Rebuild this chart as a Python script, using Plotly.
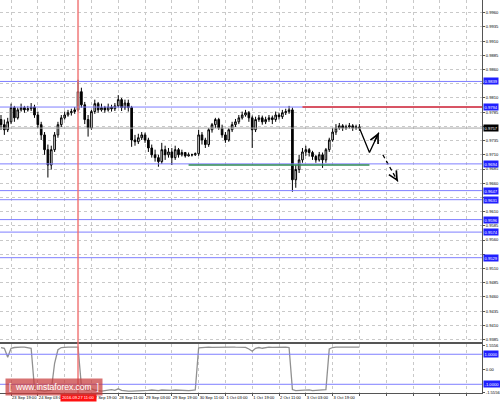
import plotly.graph_objects as go

# ---------------- data ----------------
open_ = [0.9772, 0.9763, 0.9754, 0.9768, 0.9793, 0.9775, 0.9789, 0.9793, 0.9789, 0.9791,
         0.9794, 0.9780, 0.9763, 0.9745, 0.9719, 0.9692, 0.9719, 0.9745, 0.9763, 0.9775,
         0.9780, 0.9784, 0.9786, 0.9789, 0.9821, 0.9798, 0.9772, 0.9757, 0.9786, 0.9800,
         0.9789, 0.9793, 0.9789, 0.9794, 0.9791, 0.9796, 0.9807, 0.9793, 0.9801, 0.9793,
         0.9736, 0.9733, 0.9740, 0.9745, 0.9736, 0.9722, 0.9710, 0.9705, 0.9698, 0.9719,
         0.9710, 0.9715, 0.9705, 0.9719, 0.9710, 0.9714, 0.9708, 0.9710, 0.9710, 0.9712,
         0.9745, 0.9736, 0.9728, 0.9754, 0.9763, 0.9772, 0.9757, 0.9745, 0.9736, 0.9754,
         0.9763, 0.9768, 0.9775, 0.9780, 0.9784, 0.9775, 0.9754, 0.9772, 0.9775, 0.9768,
         0.9772, 0.9775, 0.9772, 0.9780, 0.9777, 0.9784, 0.9786, 0.9789, 0.9666, 0.9684,
         0.9701, 0.9715, 0.9719, 0.9714, 0.9707, 0.9701, 0.9710, 0.9701, 0.9719, 0.9736,
         0.9750, 0.9757, 0.9761, 0.9757, 0.9759, 0.9761, 0.9757, 0.9759]
high = [0.9780, 0.9772, 0.9775, 0.9800, 0.9796, 0.9793, 0.9800, 0.9796, 0.9796, 0.9801,
        0.9798, 0.9786, 0.9768, 0.9750, 0.9728, 0.9726, 0.9750, 0.9768, 0.9780, 0.9786,
        0.9789, 0.9791, 0.9794, 0.9842, 0.9828, 0.9803, 0.9780, 0.9789, 0.9807, 0.9803,
        0.9800, 0.9796, 0.9800, 0.9798, 0.9801, 0.9815, 0.9810, 0.9807, 0.9807, 0.9796,
        0.9745, 0.9747, 0.9750, 0.9749, 0.9740, 0.9728, 0.9719, 0.9710, 0.9731, 0.9726,
        0.9722, 0.9722, 0.9726, 0.9722, 0.9719, 0.9715, 0.9714, 0.9712, 0.9714, 0.9754,
        0.9750, 0.9740, 0.9757, 0.9766, 0.9775, 0.9775, 0.9763, 0.9750, 0.9757, 0.9768,
        0.9773, 0.9780, 0.9786, 0.9789, 0.9787, 0.9779, 0.9777, 0.9780, 0.9779, 0.9777,
        0.9780, 0.9779, 0.9786, 0.9784, 0.9789, 0.9791, 0.9796, 0.9793, 0.9692, 0.9710,
        0.9722, 0.9726, 0.9722, 0.9717, 0.9710, 0.9715, 0.9714, 0.9722, 0.9740, 0.9757,
        0.9764, 0.9766, 0.9764, 0.9763, 0.9766, 0.9764, 0.9763, 0.9764]
low = [0.9754, 0.9745, 0.9750, 0.9764, 0.9768, 0.9772, 0.9786, 0.9784, 0.9786, 0.9787,
       0.9775, 0.9757, 0.9736, 0.9710, 0.9670, 0.9684, 0.9715, 0.9740, 0.9759, 0.9772,
       0.9777, 0.9779, 0.9782, 0.9786, 0.9793, 0.9764, 0.9742, 0.9754, 0.9782, 0.9784,
       0.9786, 0.9784, 0.9786, 0.9786, 0.9787, 0.9793, 0.9787, 0.9789, 0.9786, 0.9724,
       0.9726, 0.9729, 0.9736, 0.9731, 0.9715, 0.9705, 0.9698, 0.9689, 0.9694, 0.9701,
       0.9705, 0.9692, 0.9701, 0.9705, 0.9707, 0.9705, 0.9707, 0.9707, 0.9708, 0.9708,
       0.9728, 0.9722, 0.9724, 0.9749, 0.9757, 0.9754, 0.9740, 0.9731, 0.9733, 0.9750,
       0.9759, 0.9764, 0.9772, 0.9777, 0.9768, 0.9722, 0.9750, 0.9768, 0.9763, 0.9764,
       0.9768, 0.9764, 0.9768, 0.9772, 0.9773, 0.9780, 0.9782, 0.9645, 0.9652, 0.9678,
       0.9696, 0.9708, 0.9707, 0.9701, 0.9696, 0.9698, 0.9687, 0.9696, 0.9715, 0.9733,
       0.9745, 0.9754, 0.9752, 0.9754, 0.9756, 0.9752, 0.9754, 0.9752]
close = [0.9763, 0.9754, 0.9768, 0.9793, 0.9775, 0.9789, 0.9793, 0.9789, 0.9791, 0.9794,
         0.9780, 0.9763, 0.9745, 0.9719, 0.9692, 0.9719, 0.9745, 0.9763, 0.9775, 0.9780,
         0.9784, 0.9786, 0.9789, 0.9821, 0.9798, 0.9772, 0.9757, 0.9786, 0.9800, 0.9789,
         0.9793, 0.9789, 0.9794, 0.9791, 0.9796, 0.9807, 0.9793, 0.9801, 0.9793, 0.9736,
         0.9733, 0.9740, 0.9745, 0.9736, 0.9722, 0.9710, 0.9705, 0.9698, 0.9719, 0.9710,
         0.9715, 0.9705, 0.9719, 0.9710, 0.9714, 0.9708, 0.9710, 0.9710, 0.9712, 0.9745,
         0.9736, 0.9728, 0.9754, 0.9763, 0.9772, 0.9757, 0.9745, 0.9736, 0.9754, 0.9763,
         0.9768, 0.9775, 0.9780, 0.9784, 0.9775, 0.9754, 0.9772, 0.9775, 0.9768, 0.9772,
         0.9775, 0.9772, 0.9780, 0.9777, 0.9784, 0.9786, 0.9789, 0.9666, 0.9684, 0.9701,
         0.9715, 0.9719, 0.9714, 0.9707, 0.9701, 0.9710, 0.9701, 0.9719, 0.9736, 0.9750,
         0.9757, 0.9761, 0.9757, 0.9759, 0.9761, 0.9757, 0.9759, 0.9757]
indicator = [1.45, 1.40, 0.80, 1.40, 1.45, 1.48, 1.48, 1.47, 1.45, 1.40,
             -1.30, -1.40, -1.42, -1.45, -1.42, -1.40, 0.40, 1.30, 1.45, 1.48,
             1.48, 1.47, 1.45, 1.48, -1.10, -1.35, -1.40, -1.30, -1.38, -1.42,
             -1.45, -1.42, -1.38, -1.35, -1.40, -1.30, -1.40, -1.45, -1.45, -1.45,
             -1.45, -1.45, -1.45, -1.42, -1.40, -1.38, -1.40, -1.42, -1.38, -1.40,
             -1.37, -1.40, -1.38, -1.40, -1.42, -1.42, -1.42, -1.40, -1.38, 1.42,
             1.45, 1.47, 1.47, 1.46, 1.47, 1.45, 1.45, 1.46, 1.47, 1.48,
             1.47, 1.46, 1.47, 1.46, 1.35, 1.20, 1.40, 1.45, 1.40, 1.45,
             1.47, 1.46, 1.47, 1.47, 1.46, 1.47, 1.45, -1.35, -1.42, -1.40,
             -1.38, -1.40, -1.37, -1.42, -1.40, -1.38, -1.40, -1.35, 1.35, 1.45,
             1.47, 1.47, 1.46, 1.47, 1.47, 1.47, 1.47, 1.47]

price_ticks = [0.9385, 0.9410, 0.9435, 0.9460, 0.9485, 0.9510, 0.9535, 0.9560, 0.9585,
               0.9610, 0.9635, 0.9660, 0.9685, 0.9710, 0.9735, 0.9760, 0.9785, 0.9810,
               0.9835, 0.9860, 0.9885, 0.9910, 0.9935, 0.9960]
price_tick_labels = ["0.9385", "0.9410", "0.9435", "0.9460", "0.9485", "0.9510", "", "0.9560",
                     "0.9585", "0.9610", "", "0.9660", "0.9685", "0.9710", "0.9735", "",
                     "0.9785", "0.9810", "", "0.9860", "0.9885", "0.9910", "0.9935", "0.9960"]
time_tick_pos = [3, 11, 19, 27, 35, 43, 51, 59, 67, 75, 83, 91, 99, 107, 115, 123, 131, 139]
time_tick_labels = ["23 Sep 19:00", "24 Sep 03:00", "", "27 Sep 19:00", "28 Sep 11:00",
                    "29 Sep 03:00", "29 Sep 19:00", "30 Sep 11:00", "1 Oct 03:00",
                    "1 Oct 19:00", "2 Oct 11:00", "3 Oct 03:00", "3 Oct 19:00",
                    "", "", "", "", ""]
blue_levels = [0.9839, 0.9794, 0.9694, 0.9647, 0.9631, 0.9596, 0.9574, 0.9529]
current_price = 0.9757
resistance_level = 0.9794
resistance_start = 90
support_level = 0.9692
support_span = [56, 110]
marker_bar = 23
marker_label = "2016.09.27 11:00"
ind_levels = [1.0, -1.0]
ind_ticks = [1.5556, 0.0, -1.5556]
ind_tick_labels = ["1.5556", "0.00", "-1.5556"]
forecast_solid_x = [107, 110, 112.8]
forecast_solid_y = [0.9757, 0.9714, 0.9749]
forecast_dash_x = [114, 118.5]
forecast_dash_y = [0.9710, 0.9663]

X_RANGE = [-0.3, 143.6]
Y_RANGE = [0.93798, 0.99823]
Y2_RANGE = [-1.58, 1.653]
FS = 4.1
FONT = "Liberation Sans, Arial, sans-serif"
bars = list(range(len(open_)))

fig = go.Figure()
fig.add_trace(go.Candlestick(
    x=bars, open=open_, high=high, low=low, close=close,
    increasing=dict(line=dict(color="black", width=1), fillcolor="white"),
    decreasing=dict(line=dict(color="black", width=1), fillcolor="black"),
    whiskerwidth=0, xaxis="x", yaxis="y", showlegend=False, hoverinfo="skip"))
fig.add_trace(go.Scatter(
    x=bars, y=indicator, mode="lines", line=dict(color="#909090", width=1.3),
    xaxis="x2", yaxis="y2", showlegend=False, hoverinfo="skip"))

# forecast arrows
fig.add_trace(go.Scatter(x=forecast_solid_x, y=forecast_solid_y, mode="lines",
                         line=dict(color="black", width=1.3), showlegend=False,
                         hoverinfo="skip", xaxis="x", yaxis="y"))
fig.add_trace(go.Scatter(x=forecast_dash_x, y=forecast_dash_y, mode="lines",
                         line=dict(color="black", width=1.3, dash="4px,3px"), showlegend=False,
                         hoverinfo="skip", xaxis="x", yaxis="y"))
fig.add_annotation(x=forecast_solid_x[2], y=forecast_solid_y[2], ax=forecast_solid_x[1] + 1.3,
                   ay=forecast_solid_y[1] + 0.0017, axref="x", ayref="y", xref="x", yref="y",
                   showarrow=True, arrowhead=5, arrowsize=1.3, arrowwidth=1.3, arrowcolor="black", text="")
fig.add_annotation(x=forecast_dash_x[1], y=forecast_dash_y[1], ax=forecast_dash_x[1] - 0.9,
                   ay=forecast_dash_y[1] + 0.0009, axref="x", ayref="y", xref="x", yref="y",
                   showarrow=True, arrowhead=5, arrowsize=1.3, arrowwidth=1.3, arrowcolor="black", text="")

grid = dict(showgrid=True, gridcolor="#c9c9c9", gridwidth=1, griddash="dot")
fig.update_layout(
    width=500, height=402, margin=dict(l=0, r=18, t=0, b=9, autoexpand=False),
    paper_bgcolor="white", plot_bgcolor="white",
    font=dict(family=FONT, size=FS, color="black"),
    xaxis=dict(domain=[0, 1], anchor="y", range=X_RANGE, tickvals=time_tick_pos,
               showticklabels=False, ticks="", showline=True, linecolor="#555555",
               mirror=True, rangeslider=dict(visible=False), zeroline=False,
               automargin=False, **grid),
    yaxis=dict(domain=[0.1285, 1], anchor="x", side="right", range=Y_RANGE,
               tickvals=price_ticks, ticktext=price_tick_labels, ticks="outside", ticklen=2,
               tickcolor="#555555", showline=True, linecolor="#555555", zeroline=False,
               tickfont=dict(size=FS), automargin=False, **grid),
    xaxis2=dict(domain=[0, 1], anchor="y2", matches="x", range=X_RANGE, tickvals=time_tick_pos,
                ticktext=time_tick_labels, ticks="outside", ticklen=2, tickcolor="#555555",
                ticklabelposition="outside right", tickangle=0, showline=True,
                linecolor="#555555", mirror=True, zeroline=False, tickfont=dict(size=FS),
                automargin=False, **grid),
    yaxis2=dict(domain=[0, 0.1235], anchor="x2", side="right", range=Y2_RANGE,
                tickvals=ind_ticks, ticktext=ind_tick_labels, ticks="outside", ticklen=2,
                tickcolor="#555555", showline=True, linecolor="#555555", zeroline=False,
                tickfont=dict(size=FS), showgrid=False, automargin=False),
)

# horizontal levels
for lv in blue_levels:
    fig.add_shape(type="line", xref="x domain", yref="y", x0=0, x1=1, y0=lv, y1=lv,
                  line=dict(color="#7f7fff", width=1))
fig.add_shape(type="line", xref="x domain", yref="y", x0=0, x1=1, y0=current_price, y1=current_price,
              line=dict(color="#a6a6a6", width=1))
fig.add_shape(type="line", xref="x", yref="y", x0=resistance_start, x1=X_RANGE[1],
              y0=resistance_level, y1=resistance_level, line=dict(color="#e03030", width=1.5))
fig.add_shape(type="line", xref="x", yref="y", x0=support_span[0], x1=support_span[1],
              y0=support_level, y1=support_level, line=dict(color="#2f8a55", width=1.5))
for lv in ind_levels:
    fig.add_shape(type="line", xref="x2 domain", yref="y2", x0=0, x1=1, y0=lv, y1=lv,
                  line=dict(color="#7f7fff", width=1))

# vertical red marker across both panels
fig.add_shape(type="line", xref="x", yref="paper", x0=marker_bar, x1=marker_bar, y0=0, y1=1,
              line=dict(color="rgba(240,110,110,0.7)", width=2), layer="above")

# right-side price boxes
for lv in blue_levels:
    fig.add_annotation(x=1, xref="paper", y=lv, yref="y", xanchor="left", xshift=1,
                       text=f"{lv:.4f}", showarrow=False, bgcolor="#2020ff",
                       font=dict(color="white", size=FS), borderpad=0.6)
fig.add_annotation(x=1, xref="paper", y=current_price, yref="y", xanchor="left", xshift=1,
                   text=f"{current_price:.4f}", showarrow=False, bgcolor="black",
                   font=dict(color="white", size=FS), borderpad=0.6)
for lv in ind_levels:
    fig.add_annotation(x=1, xref="paper", y=lv, yref="y2", xanchor="left", xshift=1,
                       text=f"{lv:.4f}", showarrow=False, bgcolor="#2020ff",
                       font=dict(color="white", size=FS), borderpad=0.6)

# red time box at the marker
fig.add_annotation(x=marker_bar, xref="x", y=-0.0115, yref="paper", yanchor="middle",
                   text=marker_label, showarrow=False, bgcolor="#ff1010",
                   font=dict(color="white", size=FS), borderpad=1.2)

# watermark
fig.add_annotation(x=0.112, xref="paper", y=0.016, yref="paper", xanchor="center", yanchor="middle",
                   text="[  www.instaforex.com  ]", showarrow=False,
                   bgcolor="rgba(200,60,60,0.72)", font=dict(color="white", size=8.5, family=FONT),
                   borderpad=3)

fig.write_html("out.html", config={"displayModeBar": False},
               post_script="document.body.style.margin='0';document.body.style.padding='0';")
